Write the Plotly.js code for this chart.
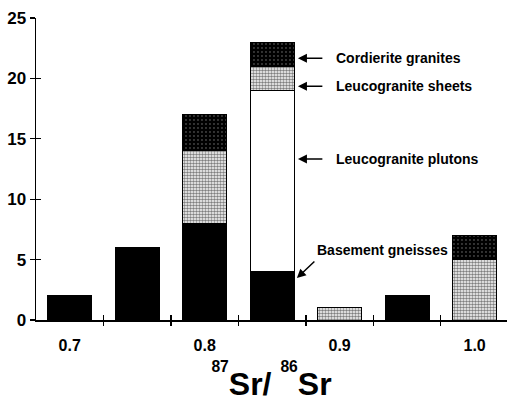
<!DOCTYPE html>
<html><head><meta charset="utf-8">
<script src="https://cdn.plot.ly/plotly-3.0.1.min.js"></script>
<style>html,body{margin:0;padding:0;background:#fff}#chart{width:507px;height:402px}</style>
</head><body><div id="chart"></div>
<script>
// Bins of 87Sr/86Sr (bin centers, width 0.05)
const binCenters = [0.70, 0.75, 0.80, 0.85, 0.90, 0.95, 1.00];
const basement   = [2, 6, 8, 4, null, 2, null];
const plutons    = [null, null, null, 15, null, null, null];
const sheets     = [null, null, 6, 2, 1, null, 5];
const cordierite = [null, null, 3, 2, null, null, 2];
const binEdges   = [0.725, 0.775, 0.825, 0.875, 0.925, 0.975];
const xTickVals  = [0.7, 0.8, 0.9, 1.0];
const xTickText  = ['0.7', '0.8', '0.9', '1.0'];
const yTickVals  = [0, 5, 10, 15, 20, 25];
const seriesNames = ['Basement gneisses', 'Leucogranite plutons', 'Leucogranite sheets', 'Cordierite granites'];

const FONT = 'Liberation Sans, Arial, Helvetica, sans-serif';
const XR = [0.675, 1.024];
const YR = [0, 25];
const barW = 0.0325;
const line = {color: '#000', width: 1};

const traces = [
  {type: 'bar', name: seriesNames[0], x: binCenters, y: basement, width: barW,
   marker: {color: '#000', line: line}},
  {type: 'bar', name: seriesNames[1], x: binCenters, y: plutons, width: barW,
   marker: {color: '#fff', line: line}},
  {type: 'bar', name: seriesNames[2], x: binCenters, y: sheets, width: barW,
   marker: {color: '#fff', line: line,
     pattern: {shape: '.', fgcolor: '#000', bgcolor: '#fff', size: 3, solidity: 0.55, fillmode: 'overlay'}}},
  {type: 'bar', name: seriesNames[3], x: binCenters, y: cordierite, width: barW,
   marker: {color: '#000', line: line,
     pattern: {shape: '.', fgcolor: '#fff', bgcolor: '#000', size: 4, solidity: 0.1, fillmode: 'overlay'}}},
  // invisible helpers to activate overlay axes
  {type: 'scatter', x: [XR[0]], y: [0], xaxis: 'x2', yaxis: 'y', mode: 'markers', marker: {opacity: 0}, hoverinfo: 'skip', showlegend: false},
  {type: 'scatter', x: [XR[0]], y: [0], xaxis: 'x3', yaxis: 'y', mode: 'markers', marker: {opacity: 0}, hoverinfo: 'skip', showlegend: false},
  {type: 'scatter', x: [XR[0]], y: [0], xaxis: 'x', yaxis: 'y2', mode: 'markers', marker: {opacity: 0}, hoverinfo: 'skip', showlegend: false}
];

function arrow(x, y, ax, ay) {
  return {x: x, y: y, ax: ax, ay: ay, xref: 'x', yref: 'y', axref: 'x', ayref: 'y',
    text: '', showarrow: true, arrowhead: 2, arrowsize: 1.2, arrowwidth: 1.5, arrowcolor: '#000', standoff: 0, startstandoff: 0};
}
function label(x, y, t) {
  return {x: x, y: y, xref: 'x', yref: 'y', text: t, showarrow: false, xanchor: 'left', yanchor: 'middle',
    font: {family: FONT, size: 14, color: '#000', weight: 'bold'}};
}

const layout = {
  width: 507, height: 402,
  margin: {l: 36, r: 0, t: 18, b: 82},
  paper_bgcolor: '#fff', plot_bgcolor: '#fff',
  barmode: 'stack', showlegend: false,
  font: {family: FONT, color: '#000'},
  xaxis: {
    range: XR, showgrid: false, zeroline: false, showline: true, linecolor: '#000', linewidth: 1.5,
    tickmode: 'array', tickvals: binEdges, ticks: 'inside', ticklen: 5, tickwidth: 1.2, tickcolor: '#000',
    showticklabels: false,
    title: {text: '<sup><sup>87</sup></sup>Sr/ <sup><sup>86</sup></sup>Sr',
      font: {family: FONT, size: 32, color: '#000', weight: 'bold'}, standoff: 53}
  },
  xaxis2: {
    overlaying: 'x', anchor: 'y', side: 'bottom', range: XR, showgrid: false, zeroline: false, showline: false,
    tickmode: 'array', tickvals: xTickVals, ticktext: xTickText, ticks: '', ticklabelstandoff: 14,
    tickfont: {family: FONT, size: 16, color: '#000', weight: 'bold'}
  },
  xaxis3: {
    overlaying: 'x', anchor: 'y', side: 'bottom', range: XR, showgrid: false, zeroline: false, showline: false,
    tickmode: 'array', tickvals: binEdges, ticks: 'outside', ticklen: 5, tickwidth: 1.2, tickcolor: '#000',
    showticklabels: false
  },
  yaxis: {
    range: YR, showgrid: false, zeroline: false, showline: true, linecolor: '#000', linewidth: 1.5,
    tickmode: 'array', tickvals: yTickVals, ticks: 'outside', ticklen: 5, tickwidth: 1.2, tickcolor: '#000',
    tickfont: {family: FONT, size: 17, color: '#000', weight: 'bold'}
  },
  yaxis2: {
    overlaying: 'y', anchor: 'x', side: 'left', range: YR, showgrid: false, zeroline: false, showline: false,
    tickmode: 'array', tickvals: yTickVals, ticks: 'inside', ticklen: 5, tickwidth: 1.2, tickcolor: '#000',
    showticklabels: false
  },
  annotations: [
    label(0.8957, 21.67, seriesNames[3]),
    label(0.8957, 19.35, seriesNames[2]),
    label(0.8957, 13.32, seriesNames[1]),
    label(0.8817, 5.79, seriesNames[0]),
    arrow(0.8691, 21.67, 0.8883, 21.67),
    arrow(0.8691, 19.35, 0.8883, 19.35),
    arrow(0.8691, 13.32, 0.8883, 13.32),
    arrow(0.8683, 3.47, 0.8824, 4.96)
  ]
};

Plotly.newPlot('chart', traces, layout, {staticPlot: true, displayModeBar: false});
</script>
</body></html>
